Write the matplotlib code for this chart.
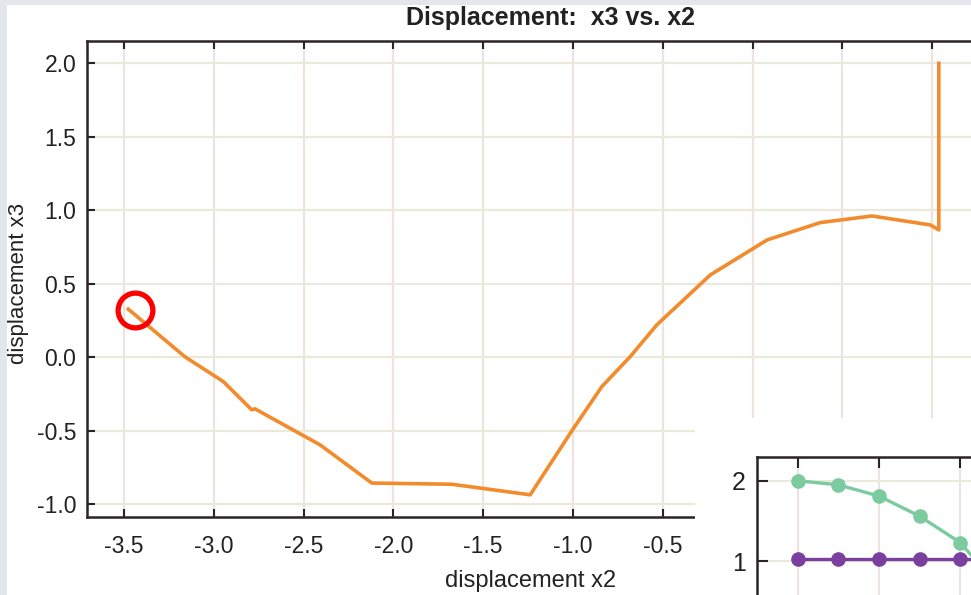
import matplotlib
matplotlib.use("Agg")
import matplotlib.pyplot as plt
from matplotlib.patches import Rectangle

plt.rcParams['font.family'] = ['Liberation Sans', 'DejaVu Sans']
plt.rcParams['axes.unicode_minus'] = False

# main curve: displacement x3 vs x2
x2 = [-3.476, -3.160, -2.947, -2.789, -2.770, -2.408, -2.120, -1.675, -1.238,
      -1.006, -0.839, -0.681, -0.533, -0.235, 0.081, 0.377, 0.665, 0.990, 1.037, 1.037]
x3 = [0.327, 0.002, -0.166, -0.358, -0.352, -0.597, -0.857, -0.865, -0.937,
      -0.501, -0.200, 0.004, 0.220, 0.560, 0.798, 0.916, 0.961, 0.900, 0.866, 2.0]
mark_x = [-3.439]
mark_y = [0.322]

xticks = [-3.5, -3.0, -2.5, -2.0, -1.5, -1.0, -0.5, 0.0, 0.5, 1.0]
# labels right of -0.5 sit under the inset panel
xlabels = ["-3.5", "-3.0", "-2.5", "-2.0", "-1.5", "-1.0", "-0.5", "", "", ""]
yticks = [-1.0, -0.5, 0.0, 0.5, 1.0, 1.5, 2.0]

# inset
ins_x = [0, 0.5, 1.0, 1.5, 2.0, 2.5]
ins_green = [2.0, 1.95, 1.81, 1.56, 1.23, 0.65]
ins_purple = [1.03, 1.03, 1.03, 1.03, 1.03, 1.03]

W, H = 971, 595
fig = plt.figure(figsize=(W / 100, H / 100), dpi=100, facecolor='#e4e6eb')
fig.patches.append(Rectangle((7 / W, 0), 1, 1 - 5 / H, transform=fig.transFigure,
                             facecolor='white', edgecolor='none', zorder=-1))

spine_c = '#2b2327'
hgrid = '#ebe9dc'
vgrid = '#eee4df'
txt_c = '#222222'

ax = fig.add_axes([87.3 / W, 1 - 516.7 / H, (1013 - 87.3) / W, (516.7 - 41) / H])
ax.plot(x2, x3, color='#f28b2c', lw=2.6, solid_joinstyle='round', zorder=3)
ax.plot(mark_x, mark_y, 'o', ms=25, mfc='none', mec='#ff0000', mew=3.8, zorder=4)
ax.set_xlim(-3.704, 1.45)
ax.set_ylim(-1.086, 2.152)
ax.set_xticks(xticks)
ax.set_xticklabels(xlabels)
ax.set_yticks(yticks)
ax.set_yticklabels([f"{v:.1f}" for v in yticks])
for v in xticks:
    ax.axvline(v, color=vgrid, lw=1.6, zorder=1)
for v in yticks:
    ax.axhline(v, color=hgrid, lw=1.6, zorder=1)
ax.tick_params(direction='in', length=6, width=1.5, color=spine_c,
               labelsize=16.5, labelcolor=txt_c, top=True, right=False)
ax.tick_params(axis='x', pad=13)
ax.tick_params(axis='y', pad=8)
for s in ax.spines.values():
    s.set_color(spine_c)
    s.set_linewidth(1.8)

fig.text(550 / W, 1 - 18 / H, "Displacement:  x3 vs. x2", ha='center', va='center',
         fontsize=18, fontweight='bold', color=txt_c)
fig.text(531 / W, 1 - 581 / H, "displacement x2", ha='center', va='center',
         fontsize=17, color=txt_c)
fig.text(19 / W, 1 - 283 / H, "displacement x3", ha='center', va='center',
         rotation=90, fontsize=16, color=txt_c)

# white panel holding the inset
fig.patches.append(Rectangle((695 / W, 0), 1, 1 - 418 / H, transform=fig.transFigure,
                             facecolor='white', edgecolor='none', zorder=5))

axi = fig.add_axes([757 / W, 1 - 700 / H, (1100 - 757) / W, (700 - 456.7) / H], zorder=6)
axi.set_xlim(-0.5, 3.72)
axi.set_ylim(-0.73, 2.3)
axi.set_xticks([0, 1, 2, 3])
axi.set_yticks([1, 2])
axi.set_xticklabels([])
for v in [0, 1, 2, 3]:
    axi.axvline(v, color=vgrid, lw=1.5, zorder=1)
for v in [0, 1, 2]:
    axi.axhline(v, color=hgrid, lw=1.5, zorder=1)
axi.plot(ins_x, ins_green, '-o', color='#7ccaa0', lw=2.4, ms=9.5, zorder=3)
axi.plot(ins_x, ins_purple, '-o', color='#7b3f9f', lw=2.4, ms=9.5, zorder=3)
axi.tick_params(direction='in', length=8, width=1.5, color=spine_c,
                labelsize=18, labelcolor=txt_c, top=True, bottom=False, right=False)
axi.tick_params(axis='y', pad=8)
for s in axi.spines.values():
    s.set_color(spine_c)
    s.set_linewidth(1.8)

fig.savefig("out.png", dpi=100, facecolor=fig.get_facecolor())
